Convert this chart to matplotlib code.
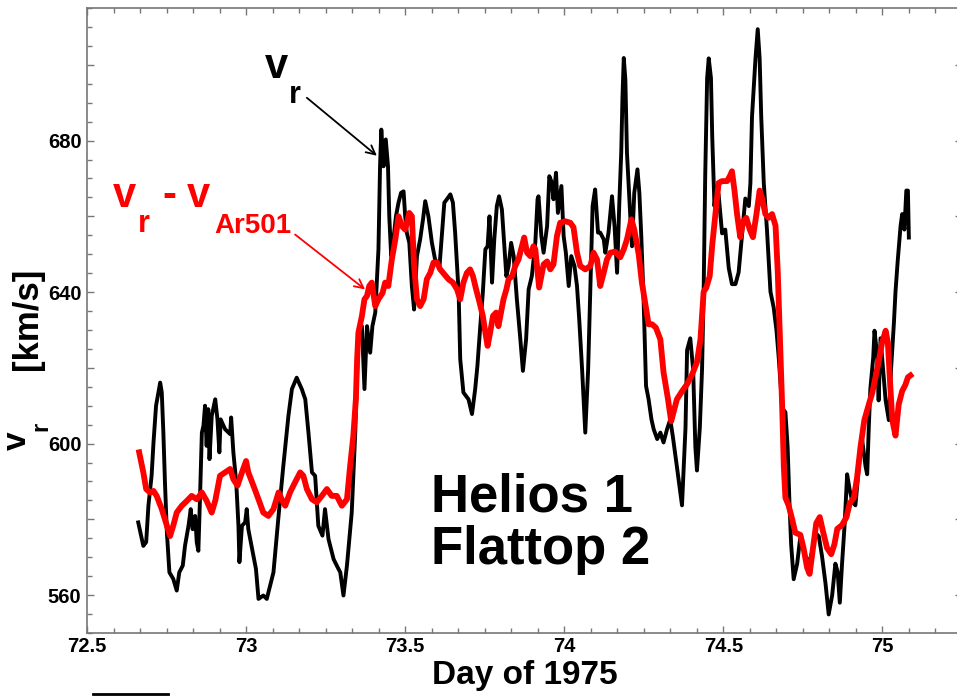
import matplotlib
matplotlib.use("Agg")
import matplotlib.pyplot as plt
from matplotlib.ticker import MultipleLocator, FuncFormatter
from matplotlib.lines import Line2D

# Data (day of 1975, km/s)
day_vr = [72.661, 72.677, 72.686, 72.693, 72.703, 72.709, 72.717, 72.730, 72.735, 72.740,
          72.745, 72.751, 72.759, 72.771, 72.782, 72.790, 72.801, 72.808, 72.819, 72.826,
          72.832, 72.840, 72.845, 72.850, 72.855, 72.861, 72.866, 72.871, 72.876, 72.881,
          72.885, 72.892, 72.903, 72.910, 72.916, 72.920, 72.934, 72.950, 72.953, 72.960,
          72.969, 72.976, 72.979, 72.987, 72.997, 73.002, 73.007, 73.023, 73.031, 73.039,
          73.054, 73.065, 73.086, 73.102, 73.117, 73.133, 73.144, 73.159, 73.175, 73.186,
          73.196, 73.207, 73.217, 73.227, 73.240, 73.248, 73.259, 73.275, 73.285, 73.296,
          73.306, 73.317, 73.332, 73.343, 73.353, 73.364, 73.372, 73.380, 73.390, 73.397,
          73.406, 73.416, 73.421, 73.425, 73.432, 73.439, 73.446, 73.450, 73.456, 73.463,
          73.471, 73.479, 73.487, 73.495, 73.500, 73.505, 73.513, 73.521, 73.528, 73.537,
          73.547, 73.556, 73.563, 73.573, 73.584, 73.594, 73.608, 73.615, 73.623, 73.631,
          73.642, 73.650, 73.657, 73.668, 73.673, 73.683, 73.699, 73.710, 73.720, 73.727,
          73.736, 73.744, 73.752, 73.759, 73.765, 73.773, 73.780, 73.788, 73.795, 73.804,
          73.811, 73.818, 73.825, 73.833, 73.841, 73.851, 73.862, 73.870, 73.880, 73.888,
          73.898, 73.909, 73.916, 73.919, 73.928, 73.935, 73.946, 73.953, 73.961, 73.966,
          73.974, 73.980, 73.991, 73.998, 74.005, 74.014, 74.022, 74.032, 74.040, 74.047,
          74.056, 74.066, 74.075, 74.082, 74.089, 74.097, 74.106, 74.113, 74.124, 74.129,
          74.139, 74.150, 74.158, 74.166, 74.173, 74.179, 74.183, 74.187, 74.192, 74.197,
          74.208, 74.213, 74.220, 74.230, 74.236, 74.242, 74.249, 74.257, 74.265, 74.274,
          74.281, 74.292, 74.302, 74.312, 74.323, 74.333, 74.341, 74.354, 74.370, 74.381,
          74.386, 74.396, 74.405, 74.412, 74.417, 74.426, 74.433, 74.438, 74.443, 74.449,
          74.454, 74.461, 74.465, 74.472, 74.478, 74.485, 74.496, 74.506, 74.517, 74.527,
          74.538, 74.548, 74.559, 74.569, 74.580, 74.585, 74.590, 74.601, 74.608, 74.614,
          74.619, 74.627, 74.632, 74.637, 74.648, 74.658, 74.667, 74.674, 74.685, 74.695,
          74.702, 74.708, 74.713, 74.721, 74.732, 74.742, 74.758, 74.768, 74.779, 74.789,
          74.800, 74.810, 74.821, 74.831, 74.842, 74.852, 74.859, 74.866, 74.873, 74.881,
          74.889, 74.897, 74.905, 74.915, 74.926, 74.936, 74.947, 74.952, 74.957, 74.962,
          74.971, 74.975, 74.983, 74.988, 74.994, 75.002, 75.010, 75.020, 75.027, 75.036,
          75.041, 75.048, 75.057, 75.062, 75.069, 75.075, 75.080, 75.083]
vr = [579.2, 573.0, 574.0, 583.6, 591.5, 600.3, 610.0, 616.1, 613.5, 602.9,
      589.8, 576.6, 566.0, 564.3, 561.2, 566.0, 567.8, 573.0, 578.3, 582.7,
      577.4, 580.9, 573.9, 571.7, 585.3, 602.9, 604.7, 610.0, 599.4, 609.1,
      595.9, 607.3, 611.7, 606.4, 597.7, 606.4, 603.8, 602.5, 606.9, 597.7,
      589.8, 578.3, 568.7, 578.3, 579.2, 582.7, 577.4, 570.4, 566.9, 559.0,
      559.9, 559.0, 566.0, 580.9, 594.1, 607.3, 614.4, 617.4, 614.4, 611.7,
      602.9, 592.4, 591.5, 578.3, 575.7, 582.7, 574.8, 569.5, 567.8, 566.0,
      559.9, 567.8, 581.8, 602.9, 629.3, 631.0, 614.4, 631.0, 624.0, 631.0,
      634.6, 651.3, 673.2, 682.9, 673.2, 680.3, 673.2, 660.0, 649.5, 653.9,
      660.0, 663.6, 666.2, 666.6, 660.0, 655.7, 653.0, 641.6, 635.4, 649.5,
      653.9, 659.2, 664.0, 660.0, 653.0, 648.6, 646.9, 654.8, 663.6, 664.5,
      665.8, 663.6, 655.7, 639.8, 622.3, 613.5, 611.7, 607.8, 614.4, 620.5,
      631.0, 639.8, 651.3, 652.1, 660.0, 642.5, 653.9, 662.7, 665.3, 661.8,
      653.0, 644.2, 646.9, 653.0, 649.5, 638.1, 627.5, 619.2, 627.5, 640.7,
      644.2, 653.0, 664.5, 665.3, 654.8, 650.4, 657.4, 670.6, 668.9, 664.5,
      671.5, 660.9, 668.0, 654.8, 650.4, 641.6, 649.5, 646.9, 641.6, 632.8,
      619.6, 602.9, 619.6, 641.6, 662.7, 667.1, 655.7, 655.7, 653.9, 650.4,
      655.7, 665.3, 657.4, 645.1, 663.6, 676.8, 691.7, 701.8, 696.1, 676.8,
      659.2, 652.1, 666.2, 672.4, 666.2, 654.8, 638.9, 615.2, 611.7, 606.4,
      603.8, 601.2, 602.9, 600.3, 603.8, 606.4, 602.0, 593.9, 583.7, 604.2,
      624.7, 627.8, 619.6, 599.1, 592.9, 604.2, 619.6, 640.1, 670.9, 696.5,
      701.7, 696.5, 681.1, 662.7, 667.8, 665.8, 655.5, 656.5, 646.3, 642.1,
      642.1, 645.2, 655.5, 664.7, 662.7, 668.8, 686.3, 701.7, 709.4, 701.7,
      686.3, 668.8, 662.7, 656.5, 640.1, 636.0, 629.8, 622.7, 609.3, 608.3,
      599.1, 583.7, 573.4, 564.2, 568.3, 575.5, 570.3, 568.3, 571.4, 576.5,
      575.5, 570.3, 563.1, 554.9, 560.0, 568.3, 566.2, 558.0, 568.3, 578.5,
      591.9, 587.8, 584.7, 583.7, 593.9, 601.1, 593.9, 591.9, 604.2, 614.5,
      622.7, 629.8, 623.7, 611.4, 627.8, 619.6, 611.4, 606.2, 619.6, 631.9,
      640.1, 648.3, 657.5, 660.6, 656.5, 666.8, 666.8, 654.4]

day_diff = [72.664, 72.677, 72.686, 72.698, 72.709, 72.719, 72.735, 72.751, 72.761, 72.771,
            72.782, 72.798, 72.814, 72.829, 72.845, 72.861, 72.876, 72.892, 72.903, 72.918,
            72.934, 72.950, 72.960, 72.973, 72.987, 73.000, 73.007, 73.023, 73.039, 73.054,
            73.070, 73.086, 73.102, 73.112, 73.123, 73.138, 73.154, 73.170, 73.180, 73.191,
            73.207, 73.222, 73.238, 73.254, 73.269, 73.285, 73.301, 73.317, 73.327, 73.337,
            73.345, 73.349, 73.353, 73.364, 73.372, 73.380, 73.387, 73.395, 73.406, 73.416,
            73.429, 73.437, 73.447, 73.458, 73.469, 73.479, 73.490, 73.500, 73.513, 73.521,
            73.528, 73.537, 73.547, 73.558, 73.568, 73.579, 73.589, 73.600, 73.610, 73.623,
            73.636, 73.650, 73.663, 73.673, 73.683, 73.694, 73.704, 73.713, 73.723, 73.734,
            73.744, 73.752, 73.759, 73.767, 73.776, 73.786, 73.793, 73.801, 73.809, 73.818,
            73.825, 73.836, 73.846, 73.856, 73.867, 73.874, 73.883, 73.893, 73.903, 73.909,
            73.921, 73.935, 73.946, 73.956, 73.966, 73.977, 73.987, 74.003, 74.019, 74.029,
            74.040, 74.050, 74.066, 74.082, 74.092, 74.103, 74.113, 74.124, 74.134, 74.145,
            74.160, 74.176, 74.187, 74.197, 74.211, 74.220, 74.234, 74.244, 74.255, 74.265,
            74.276, 74.288, 74.302, 74.312, 74.326, 74.336, 74.354, 74.370, 74.386, 74.402,
            74.417, 74.428, 74.438, 74.446, 74.457, 74.465, 74.475, 74.485, 74.496, 74.512,
            74.522, 74.527, 74.535, 74.543, 74.553, 74.562, 74.572, 74.583, 74.593, 74.604,
            74.614, 74.622, 74.632, 74.642, 74.653, 74.664, 74.671, 74.679, 74.685, 74.690,
            74.695, 74.705, 74.716, 74.726, 74.742, 74.752, 74.763, 74.771, 74.782, 74.792,
            74.803, 74.814, 74.826, 74.839, 74.849, 74.858, 74.873, 74.887, 74.897, 74.910,
            74.920, 74.931, 74.943, 74.957, 74.968, 74.978, 74.988, 74.999, 75.010, 75.017,
            75.023, 75.031, 75.041, 75.051, 75.062, 75.072, 75.080, 75.088]
vr_diff = [597.7, 592.4, 588.0, 587.1, 587.5, 586.2, 582.7, 578.3, 575.6, 578.3,
           581.8, 583.6, 584.9, 586.2, 585.3, 587.1, 584.9, 581.8, 584.9, 591.5,
           592.4, 593.3, 590.6, 588.9, 592.4, 595.4, 592.4, 588.9, 585.3, 581.8,
           580.9, 582.7, 587.1, 585.3, 583.6, 587.1, 589.8, 592.4, 591.5, 588.0,
           585.3, 584.5, 586.2, 588.0, 586.2, 586.2, 583.6, 585.3, 594.1, 602.0,
           611.7, 622.3, 629.3, 633.7, 638.1, 639.0, 641.6, 642.5, 636.3, 638.1,
           639.8, 642.5, 641.6, 648.6, 653.9, 660.0, 657.4, 656.5, 660.9, 660.0,
           646.9, 638.1, 636.3, 638.1, 643.4, 645.1, 647.8, 647.8, 646.0, 644.7,
           643.4, 642.5, 640.7, 638.1, 642.5, 645.1, 646.0, 644.2, 640.7, 637.2,
           633.7, 629.3, 625.8, 629.3, 633.7, 634.6, 631.0, 634.6, 638.1, 640.7,
           643.4, 644.2, 646.9, 648.6, 652.1, 654.4, 650.4, 649.5, 652.1, 651.3,
           641.2, 647.3, 648.1, 646.0, 647.3, 654.8, 658.3, 658.7, 658.3, 657.1,
           650.4, 646.9, 646.0, 646.9, 650.4, 648.6, 641.6, 645.1, 648.6, 650.4,
           650.7, 649.2, 651.3, 653.9, 659.2, 656.5, 649.9, 642.5, 636.8, 631.5,
           631.5, 630.6, 627.5, 618.8, 611.7, 605.9, 611.7, 613.8, 615.7, 618.3,
           621.5, 627.5, 640.1, 641.1, 644.2, 652.4, 660.6, 668.8, 669.3, 669.3,
           670.9, 671.9, 666.8, 660.6, 654.5, 658.6, 659.6, 656.5, 654.5, 660.6,
           666.8, 664.7, 660.6, 659.6, 660.6, 657.5, 645.2, 624.7, 609.3, 593.9,
           585.7, 583.7, 580.1, 576.5, 575.9, 572.4, 567.3, 565.6, 572.7, 579.0,
           580.6, 576.5, 572.4, 570.8, 573.4, 577.5, 578.5, 580.6, 584.2, 585.7,
           590.9, 599.1, 606.2, 610.3, 613.4, 617.5, 621.6, 626.7, 629.8, 626.7,
           617.5, 606.2, 602.1, 610.3, 613.9, 615.5, 617.5, 618.0]

ytick_labels = [560, 600, 640, 680]

plt.rcParams["font.family"] = "Liberation Sans"
plt.rcParams["font.weight"] = "bold"
plt.rcParams["axes.labelweight"] = "bold"

W, H = 957, 696
fig = plt.figure(figsize=(W / 100, H / 100), dpi=100)
ax = fig.add_axes([87 / W, 63 / H, 875 / W, 625 / H])


def fpos(x, y):
    # pixel position -> figure fraction
    return x / W, 1 - y / H


ax.plot(day_vr, vr, color="black", lw=2.8, solid_joinstyle="round")
ax.plot(day_diff, vr_diff, color="#ff0000", lw=4.2, solid_joinstyle="round")

ax.set_xlim(72.5, 75.25)
ax.set_ylim(550, 715)

ax.xaxis.set_major_locator(MultipleLocator(0.5))
ax.xaxis.set_minor_locator(MultipleLocator(1 / 12))
ax.yaxis.set_major_locator(MultipleLocator(20))
ax.yaxis.set_minor_locator(MultipleLocator(5))
ax.xaxis.set_major_formatter(FuncFormatter(lambda v, p: "%g" % v))
ax.yaxis.set_major_formatter(
    FuncFormatter(lambda v, p: "%d" % v if round(v) in ytick_labels else ""))

ax.tick_params(which="both", direction="in", top=True, right=True,
               color="#777777", labelsize=14.5)
ax.tick_params(which="major", length=5, width=1)
ax.tick_params(which="minor", length=3.5, width=1)
ax.tick_params(axis="x", pad=3)
ax.tick_params(axis="y", pad=4)
for s in ax.spines.values():
    s.set_color("#777777")
    s.set_linewidth(1.2)

ax.set_xlabel("Day of 1975", fontsize=24, fontweight="bold", labelpad=3)

# y label, built from pieces to get the low subscript
fig.text(*fpos(26, 450), "v", fontsize=24, rotation=90, rotation_mode="anchor",
         ha="left", va="baseline")
fig.text(*fpos(47, 431), "r", fontsize=17, rotation=90, rotation_mode="anchor",
         ha="left", va="baseline")
fig.text(*fpos(37, 370), "[km/s]", fontsize=25, rotation=90, rotation_mode="anchor",
         ha="left", va="baseline")

# v_r label and arrow
fig.text(*fpos(265, 78), "v", fontsize=30, color="black", ha="left", va="baseline")
fig.text(*fpos(289, 103), "r", fontsize=22, color="black", ha="left", va="baseline")
ax.annotate("", xy=(73.411, 676.0), xytext=(73.191, 691.3),
            arrowprops=dict(arrowstyle="->", color="black", lw=1.3,
                            mutation_scale=16, shrinkA=0, shrinkB=0))

# v_r - v_Ar501 label and arrow
red = "#ff0000"
fig.text(*fpos(113, 207), "v", fontsize=30, color=red, ha="left", va="baseline")
fig.text(*fpos(138, 232), "r", fontsize=22, color=red, ha="left", va="baseline")
fig.text(*fpos(162, 207), "-", fontsize=30, color=red, ha="left", va="baseline")
fig.text(*fpos(187, 207), "v", fontsize=30, color=red, ha="left", va="baseline")
fig.text(*fpos(214, 233), "Ar501", fontsize=20, color=red, ha="left", va="baseline")
ax.annotate("", xy=(73.374, 640.7), xytext=(73.154, 655.2),
            arrowprops=dict(arrowstyle="->", color=red, lw=1.3,
                            mutation_scale=16, shrinkA=0, shrinkB=0))

fig.text(*fpos(431, 511), "Helios 1", fontsize=38, ha="left", va="baseline")
fig.text(*fpos(431, 564), "Flattop 2", fontsize=38, ha="left", va="baseline")

# edge of a box cut off at the bottom of the original
fig.add_artist(Line2D([93 / W, 168 / W], [1 - 694 / H] * 2, color="black", lw=2,
                      transform=fig.transFigure))

fig.savefig("out.png", dpi=100)
